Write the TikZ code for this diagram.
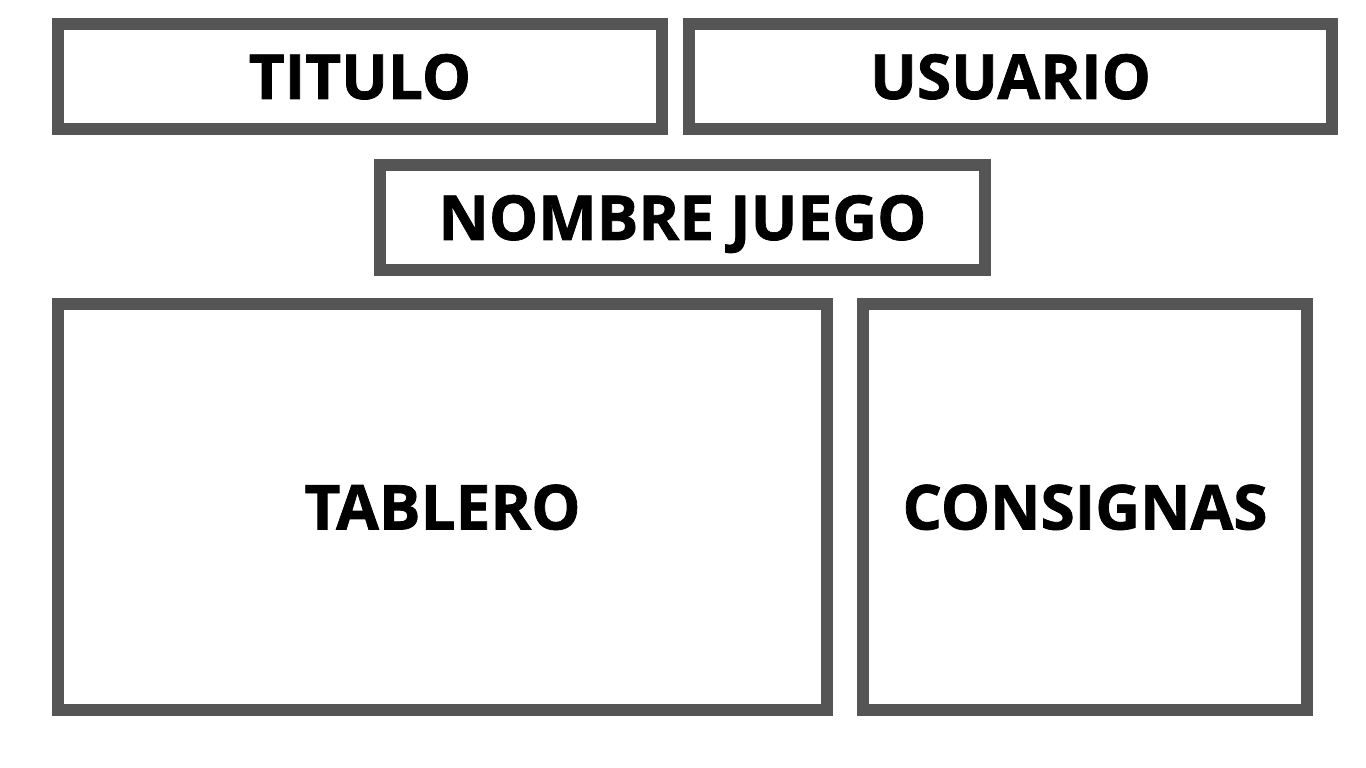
\documentclass[tikz,border=0pt]{standalone}
\usepackage{fontspec}
\setmainfont{Open Sans}[BoldFeatures={FakeBold=1.2}]
\usetikzlibrary{positioning}
\definecolor{panelgray}{HTML}{555555}
\tikzset{
  panel/.style={draw=panelgray, line width=12pt, fill=white, inner sep=0pt,
    font=\fontsize{62}{70}\selectfont\bfseries, text=black, text depth=-4pt,
    align=center}
}

\begin{document}
\begin{tikzpicture}[x=1pt,y=-1pt]
  \useasboundingbox (0,0) rectangle (1366,768);
  \node[panel, minimum width=604pt, minimum height=105pt] (titulo) at (360,76.5) {TITULO};
  \node[panel, minimum width=643pt, minimum height=105pt] (usuario) at (1010.5,76.5) {USUARIO};
  \node[panel, minimum width=605pt, minimum height=105pt] (nombre) at (682.5,217.5) {NOMBRE JUEGO};
  \node[panel, minimum width=769pt, minimum height=406pt] (tablero) at (442.5,507) {TABLERO};
  \node[panel, minimum width=444pt, minimum height=406pt] (consignas) at (1085,507) {CONSIGNAS};
\end{tikzpicture}
\end{document}
